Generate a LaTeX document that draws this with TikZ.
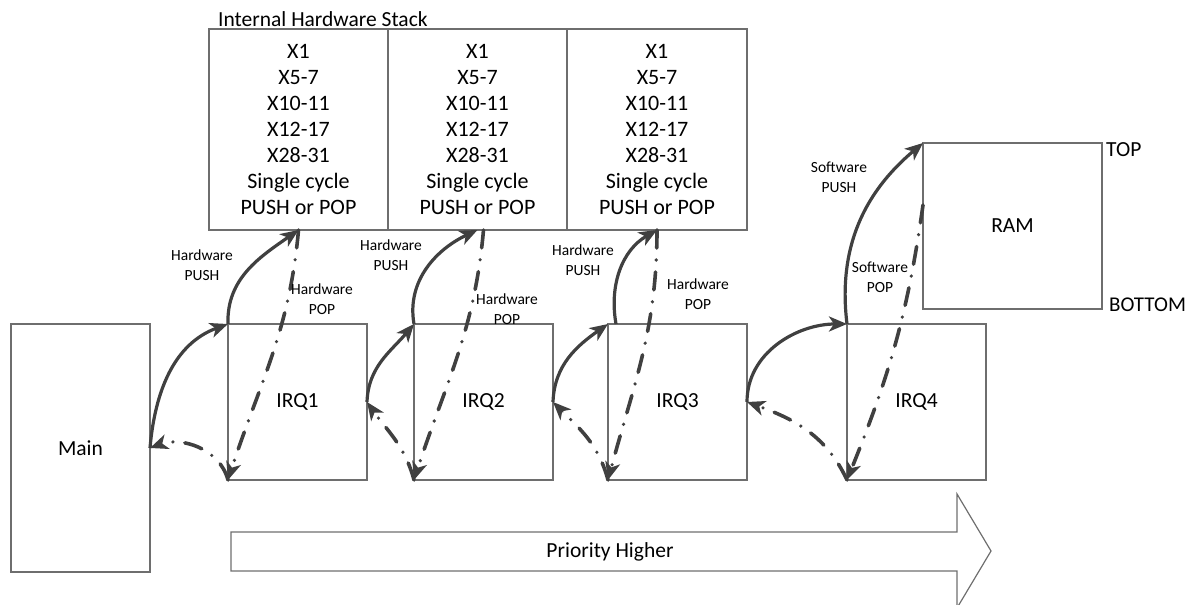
\documentclass[tikz,border=0pt]{standalone}
\usepackage{fontspec}
\setmainfont{Carlito}
\usepackage{tikz}
\usetikzlibrary{arrows.meta,positioning}
\definecolor{linkgray}{HTML}{404040}
\definecolor{boxgray}{HTML}{6E6E6E}
\tikzset{
  stackbox/.style={draw=boxgray, line width=1.2pt, outer sep=0pt, inner sep=0pt,
    minimum width=179pt, minimum height=201pt, align=center,
    font=\fontsize{22}{26}\selectfont, execute at begin node={\rule{0pt}{24pt}}},
  procbox/.style={draw=boxgray, line width=1.4pt, outer sep=0pt, inner sep=0pt,
    minimum width=139pt, minimum height=156pt, font=\fontsize{21.5}{26}\selectfont},
  bigtext/.style={inner sep=0pt, font=\fontsize{21.5}{26}\selectfont},
  note/.style={align=center, inner sep=0pt, font=\fontsize{15.5}{20}\selectfont},
  pushlink/.style={draw=linkgray, line width=3.2pt,
    -{Stealth[length=18pt,width=15pt,inset=5pt]}},
  poplink/.style={pushlink, line width=3.6pt, line cap=round,
    dash pattern=on 18pt off 12pt on 0pt off 12pt},
}

\begin{document}
\begin{tikzpicture}[x=1pt,y=1pt]
    \useasboundingbox (0,0) rectangle (1187,605);
    % hardware stack
    \node[bigtext, anchor=base west] (title) at (218,578) {Internal Hardware Stack};
    \node[stackbox] (stk1) at (298.5,475.5) {X1\\X5-7\\X10-11\\X12-17\\X28-31\\Single cycle\\PUSH or POP};
    \node[stackbox, right=0pt of stk1] (stk2) {X1\\X5-7\\X10-11\\X12-17\\X28-31\\Single cycle\\PUSH or POP};
    \node[stackbox, right=0pt of stk2, minimum width=180pt] (stk3) {X1\\X5-7\\X10-11\\X12-17\\X28-31\\Single cycle\\PUSH or POP};
    % tasks
    \node[procbox, minimum height=248pt] (main) at (80.5,157) {Main};
    \node[procbox] (irq1) at (297.5,203) {IRQ1};
    \node[procbox] (irq2) at (483.5,203) {IRQ2};
    \node[procbox] (irq3) at (677.5,203) {IRQ3};
    \node[procbox] (irq4) at (916.5,203) {IRQ4};
    % ram
    \node[procbox, minimum width=179pt, minimum height=166pt] (ram) at (1012.5,379) {RAM};
    \node[bigtext, anchor=west] (toplbl) at (1106,455) {TOP};
    \node[bigtext, anchor=west, font=\fontsize{21}{26}\selectfont] (botlbl) at (1109,300) {BOTTOM};
    % priority arrow
    \draw[boxgray, line width=1.2pt] (231,73) -- (957,73) -- (957,111) -- (991,54)
        -- (957,-3) -- (957,34) -- (231,34) -- cycle;
    \node[bigtext] (prio) at (610,53) {Priority Higher};
    % entering and leaving
    \draw[pushlink] (main.east) to[out=85,in=200] (irq1.north west);
    \draw[poplink] (irq1.south west) to[out=105,in=20] (main.east);
    \draw[pushlink] (irq1.east) to[out=88,in=230] (irq2.north west);
    \draw[poplink] (irq2.south west) to[out=105,in=-55] (irq1.east);
    \draw[pushlink] (irq2.east) to[out=88,in=215] (irq3.north west);
    \draw[poplink] (irq3.south west) to[out=105,in=-45] (irq2.east);
    \draw[pushlink] (irq3.east) to[out=90,in=180] (irq4.north west);
    \draw[poplink] (irq4.south west) to[out=115,in=-20] (irq3.east);
    % stack push and pop
    \draw[pushlink] (irq1.north west) to[out=92,in=215] (stk1.south);
    \draw[poplink] (stk1.south) to[out=-95,in=72] (irq1.south west);
    \draw[pushlink] (irq2.north west) to[out=100,in=205] (stk2.south);
    \draw[poplink] ([xshift=6pt]stk2.south) to[out=-95,in=72] (irq2.south west);
    \draw[pushlink] ([xshift=8pt]irq3.north west) to[out=100,in=210] (stk3.south);
    \draw[poplink] (stk3.south) to[out=-90,in=75] (irq3.south west);
    \draw[pushlink] (irq4.north west) to[out=97,in=220] (ram.north west);
    \draw[poplink] ([yshift=21pt]ram.west) to[out=-98,in=68] (irq4.south west);
    % labels
    \node[note] (hwpush1) at (202,340) {Hardware\\PUSH};
    \node[note] (hwpop1) at (322,306) {Hardware\\POP};
    \node[note] (hwpush2) at (391,350) {Hardware\\PUSH};
    \node[note] (hwpop2) at (507,296) {Hardware\\POP};
    \node[note] (hwpush3) at (583,345) {Hardware\\PUSH};
    \node[note] (hwpop3) at (698,311) {Hardware\\POP};
    \node[note] (swpush) at (839,428) {Software\\PUSH};
    \node[note] (swpop) at (880,328) {Software\\POP};
\end{tikzpicture}
\end{document}
